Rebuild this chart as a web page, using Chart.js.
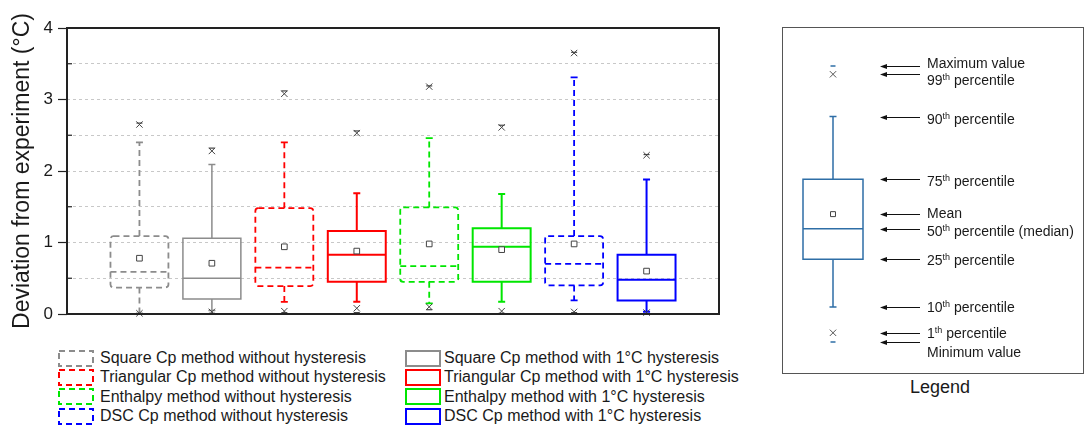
<!DOCTYPE html>
<html>
<head>
<meta charset="utf-8">
<script src="https://cdn.jsdelivr.net/npm/chart.js@4.4.1/dist/chart.umd.min.js"></script>
<style>
  body { margin: 0; background: #fff; font-family: "Liberation Sans", Arial, sans-serif; color: #1a1a1a; }
  #wrap { position: relative; width: 1086px; height: 428px; overflow: hidden; }
  #chart { position: absolute; left: 0; top: 0; }
  .legend { position: absolute; top: 348.5px; font-size: 16px; }
  .legend .row { height: 19.3px; display: flex; align-items: center; white-space: nowrap; }
  .legend svg { flex: none; }
  #side { position: absolute; left: 782px; top: 27px; width: 302px; height: 347px; border: 1px solid #555; box-sizing: border-box; }
  #side canvas { position: absolute; left: 0; top: 0; }
  #side .lab { position: absolute; left: 144px; font-size: 14px; line-height: 16px; white-space: nowrap; }
  .sup { font-size: 9px; position: relative; top: -5px; }
  #caption { position: absolute; left: 880px; width: 120px; text-align: center; top: 376px; font-size: 18px; line-height: 22px; }
</style>
</head>
<body>
<div id="wrap">
  <canvas id="chart" width="730" height="335"></canvas>
  <div class="legend" id="legLeft" style="left:58px"></div>
  <div class="legend" id="legRight" style="left:405px"></div>
  <div id="side"><canvas id="key" width="300" height="345"></canvas></div>
  <div id="caption">Legend</div>
</div>
<script>
'use strict';

// one entry per box, left to right
const categories = [
  'Square Cp method without hysteresis',
  'Square Cp method with 1°C hysteresis',
  'Triangular Cp method without hysteresis',
  'Triangular Cp method with 1°C hysteresis',
  'Enthalpy method without hysteresis',
  'Enthalpy method with 1°C hysteresis',
  'DSC Cp method without hysteresis',
  'DSC Cp method with 1°C hysteresis'
];
const boxColors = ['#8c8c8c', '#8c8c8c', '#ff0000', '#ff0000', '#00e600', '#00e600', '#0000ff', '#0000ff'];
const dashedBox = [true, false, true, false, true, false, true, false];

const minVals = [0.00, 0.01, 0.02, 0.02, 0.06, 0.01, 0.02, 0.00];
const p1Vals = [0.01, 0.03, 0.04, 0.08, 0.10, 0.04, 0.03, 0.02];
const p10Vals = [0.01, 0.05, 0.17, 0.17, 0.15, 0.17, 0.19, 0.03];
const q1Vals = [0.37, 0.21, 0.39, 0.45, 0.45, 0.45, 0.40, 0.19];
const medianVals = [0.59, 0.50, 0.65, 0.83, 0.67, 0.94, 0.70, 0.48];
const meanVals = [0.78, 0.71, 0.94, 0.88, 0.98, 0.90, 0.98, 0.60];
const q3Vals = [1.09, 1.06, 1.48, 1.16, 1.49, 1.20, 1.09, 0.83];
const p90Vals = [2.40, 2.09, 2.40, 1.69, 2.46, 1.68, 3.31, 1.88];
const p99Vals = [2.65, 2.28, 3.08, 2.53, 3.18, 2.61, 3.65, 2.22];
const maxVals = [2.67, 2.32, 3.12, 2.56, 3.19, 2.64, 3.66, 2.23];

const yMin = 0;
const yMax = 4;

// example box in the side key
const keyValues = [3.00, 2.91, 2.45, 1.77, 1.39, 1.23, 0.90, 0.38, 0.10, 0.00];
const keyLabels = [
  'Maximum value',
  '99<span class="sup">th</span> percentile',
  '90<span class="sup">th</span> percentile',
  '75<span class="sup">th</span> percentile',
  'Mean',
  '50<span class="sup">th</span> percentile (median)',
  '25<span class="sup">th</span> percentile',
  '10<span class="sup">th</span> percentile',
  '1<span class="sup">th</span> percentile',
  'Minimum value'
];
const keyLabelShift = [-3, 6, 2, 2, -1, 2, 1, 0, 0, 10];

const FONT = '"Liberation Sans", Arial, sans-serif';
const markerColor = '#444';

function drawBox(ctx, xs, ys, xVal, halfW, s, color, isDashed, lw) {
  const xc = xs.getPixelForValue(xVal);
  const hw = Math.abs(xs.getPixelForValue(xVal + halfW) - xc);
  const py = v => ys.getPixelForValue(v);
  ctx.save();
  ctx.strokeStyle = color;
  ctx.lineWidth = lw;
  ctx.setLineDash(isDashed ? [6, 4] : []);
  ctx.beginPath();
  ctx.moveTo(xc, py(s.q3)); ctx.lineTo(xc, py(s.p90));
  ctx.moveTo(xc, py(s.q1)); ctx.lineTo(xc, py(s.p10));
  ctx.stroke();
  ctx.beginPath();
  if (isDashed && ctx.roundRect) ctx.roundRect(xc - hw, py(s.q3), 2 * hw, py(s.q1) - py(s.q3), 3);
  else ctx.rect(xc - hw, py(s.q3), 2 * hw, py(s.q1) - py(s.q3));
  ctx.stroke();
  ctx.beginPath();
  ctx.moveTo(xc - hw, py(s.median)); ctx.lineTo(xc + hw, py(s.median));
  ctx.stroke();
  ctx.setLineDash([]);
  ctx.beginPath();
  ctx.moveTo(xc - 3.5, py(s.p90)); ctx.lineTo(xc + 3.5, py(s.p90));
  ctx.moveTo(xc - 3.5, py(s.p10)); ctx.lineTo(xc + 3.5, py(s.p10));
  ctx.stroke();
  ctx.restore();
}

const pts = arr => arr.map((v, i) => ({x: i + 1, y: v}));

const boxPlugin = {
  id: 'boxes',
  beforeDatasetsDraw(chart) {
    const {ctx, scales: {x, y}} = chart;
    categories.forEach((c, i) => {
      drawBox(ctx, x, y, i + 1, 0.4, {
        p10: p10Vals[i], q1: q1Vals[i], median: medianVals[i], q3: q3Vals[i], p90: p90Vals[i]
      }, boxColors[i], dashedBox[i], dashedBox[i] ? 1.8 : (i < 2 ? 1.5 : 2));
    });
  },
  afterDraw(chart) {
    const {ctx, chartArea: a, scales: {y}} = chart;
    ctx.save();
    ctx.strokeStyle = '#222';
    ctx.lineWidth = 1.2;
    y.ticks.forEach(t => {
      if (!Number.isInteger(t.value)) {
        const py = y.getPixelForValue(t.value);
        ctx.beginPath(); ctx.moveTo(a.left, py); ctx.lineTo(a.left + 5, py); ctx.stroke();
      }
    });
    ctx.lineWidth = 2;
    ctx.strokeRect(a.left, a.top, a.right - a.left, a.bottom - a.top);
    ctx.restore();
  }
};

new Chart(document.getElementById('chart'), {
  type: 'scatter',
  data: {
    datasets: [
      { data: pts(meanVals), pointStyle: 'rect', pointRadius: 4, borderColor: markerColor, backgroundColor: '#fff', borderWidth: 1, clip: false },
      { data: pts(p99Vals), pointStyle: 'crossRot', pointRadius: 4.5, borderColor: markerColor, borderWidth: 1, clip: false },
      { data: pts(p1Vals), pointStyle: 'crossRot', pointRadius: 4.5, borderColor: markerColor, borderWidth: 1, clip: false },
      { data: pts(maxVals), pointStyle: 'line', pointRadius: 3, borderColor: markerColor, borderWidth: 1.2, clip: false },
      { data: pts(minVals), pointStyle: 'line', pointRadius: 3, borderColor: markerColor, borderWidth: 1.2, clip: false }
    ]
  },
  options: {
    responsive: false,
    animation: false,
    layout: { padding: { left: 0, top: 28, right: 11, bottom: 21 } },
    plugins: { legend: { display: false }, tooltip: { enabled: false } },
    scales: {
      x: { type: 'linear', min: 0, max: 9, display: false },
      y: {
        min: yMin,
        max: yMax,
        afterFit(scale) { scale.width = 67; },
        ticks: {
          stepSize: 0.5,
          callback: v => Number.isInteger(v) ? v : '',
          font: { size: 17, family: FONT },
          color: '#1a1a1a',
          padding: 5
        },
        grid: {
          color: c => (c.tick && (c.tick.value === yMin || c.tick.value === yMax)) ? 'rgba(0,0,0,0)' : '#c8c8c8',
          tickColor: c => (c.tick && Number.isInteger(c.tick.value)) ? '#222' : 'rgba(0,0,0,0)',
          tickLength: 9,
          tickWidth: 1.2,
          lineWidth: 1
        },
        border: { display: false, dash: [3, 3] },
        title: {
          display: true,
          text: 'Deviation from experiment (°C)',
          font: { size: 23, family: FONT },
          color: '#1a1a1a',
          padding: { top: 9, bottom: 0 }
        }
      }
    }
  },
  plugins: [boxPlugin]
});

// legend rows below the plot
function swatch(color, isDashed) {
  return '<svg width="36" height="17"><rect x="1" y="1" width="34" height="15" fill="none" stroke="' + color +
    '" stroke-width="2"' + (isDashed ? ' stroke-dasharray="6 4"' : '') + '/></svg>';
}
categories.forEach((c, i) => {
  const col = document.getElementById(i % 2 === 0 ? 'legLeft' : 'legRight');
  const gap = i % 2 === 0 ? 6 : 3;
  col.insertAdjacentHTML('beforeend',
    '<div class="row">' + swatch(boxColors[i], dashedBox[i]) +
    '<span style="margin-left:' + gap + 'px">' + c + '</span></div>');
});

// side key
const keyColor = '#2e6ea6';
const keyPlugin = {
  id: 'keybox',
  beforeDatasetsDraw(chart) {
    const {ctx, scales: {x, y}} = chart;
    drawBox(ctx, x, y, 0.5, 0.5, {
      p10: keyValues[7], q1: keyValues[6], median: keyValues[5], q3: keyValues[3], p90: keyValues[2]
    }, keyColor, false, 1.5);
  },
  afterDraw(chart) {
    const {ctx, chartArea: a, scales: {y}} = chart;
    ctx.save();
    ctx.strokeStyle = '#111';
    ctx.fillStyle = '#111';
    ctx.lineWidth = 1;
    keyValues.forEach(v => {
      const py = Math.round(y.getPixelForValue(v)) + 0.5;
      ctx.beginPath(); ctx.moveTo(a.right + 22, py); ctx.lineTo(a.right + 57, py); ctx.stroke();
      ctx.beginPath(); ctx.moveTo(a.right + 17, py); ctx.lineTo(a.right + 24, py - 2.5); ctx.lineTo(a.right + 24, py + 2.5);
      ctx.closePath(); ctx.fill();
    });
    ctx.restore();
  }
};

const keyChart = new Chart(document.getElementById('key'), {
  type: 'scatter',
  data: {
    datasets: [
      { data: [{x: 0.5, y: keyValues[4]}], pointStyle: 'rect', pointRadius: 3.5, borderColor: markerColor, backgroundColor: '#fff', borderWidth: 1, clip: false },
      { data: [{x: 0.5, y: keyValues[1]}, {x: 0.5, y: keyValues[8]}], pointStyle: 'crossRot', pointRadius: 4.5, borderColor: '#555', borderWidth: 1, clip: false },
      { data: [{x: 0.5, y: keyValues[0]}, {x: 0.5, y: keyValues[9]}], pointStyle: 'line', pointRadius: 2.5, borderColor: keyColor, borderWidth: 1.5, clip: false }
    ]
  },
  options: {
    responsive: false,
    animation: false,
    layout: { padding: { left: 20, top: 38, right: 220, bottom: 31 } },
    plugins: { legend: { display: false }, tooltip: { enabled: false } },
    scales: {
      x: { type: 'linear', min: 0, max: 1, display: false },
      y: { type: 'linear', min: 0, max: 3, display: false }
    }
  },
  plugins: [keyPlugin]
});

const side = document.getElementById('side');
keyValues.forEach((v, i) => {
  const top = keyChart.scales.y.getPixelForValue(v) + keyLabelShift[i] - 8;
  side.insertAdjacentHTML('beforeend', '<div class="lab" style="top:' + top + 'px">' + keyLabels[i] + '</div>');
});
</script>
</body>
</html>
